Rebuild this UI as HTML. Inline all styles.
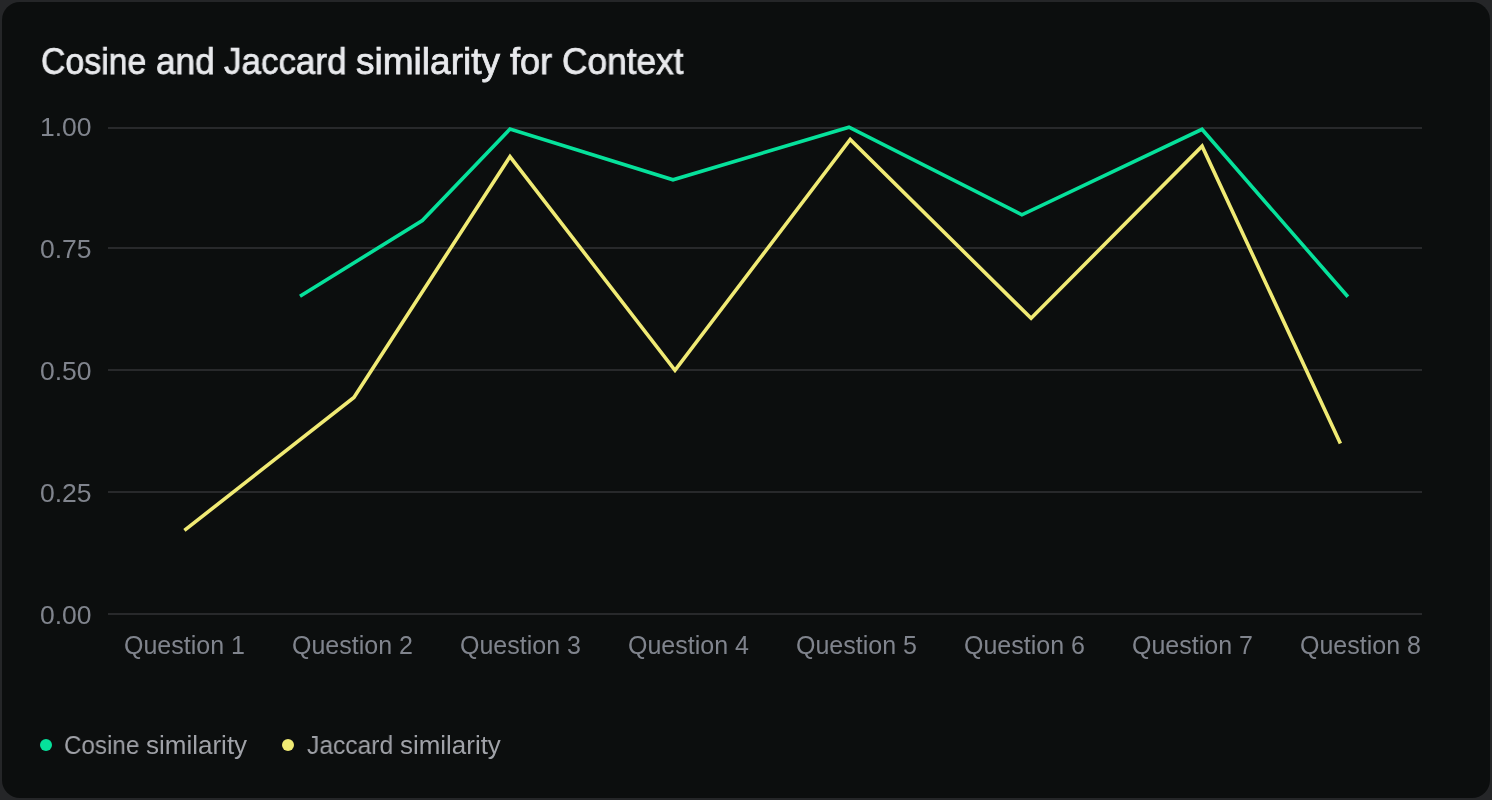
<!DOCTYPE html>
<html>
<head>
<meta charset="utf-8">
<style>
html, body { margin: 0; padding: 0; }
body { width: 1492px; height: 800px; background: #252628; overflow: hidden; position: relative; font-family: "Liberation Sans", sans-serif; }
.card { position: absolute; left: 2px; top: 2px; width: 1488px; height: 796px; background: #0c0e0e; border-radius: 18px; overflow: hidden; }
.t { position: absolute; white-space: nowrap; line-height: 1; will-change: transform; }
.title { top: 43.63px; font-size: 36.4px; color: #e8e9ec; transform-origin: 0 0; -webkit-text-stroke: 0.75px #e8e9ec; }
.yl { left: 39.5px; font-size: 26.5px; color: #80848d; }
.xl { font-size: 25px; color: #80848d; }
.lg { font-size: 25.3px; color: #a0a2a8; top: 733px; transform-origin: 0 0; }
.dot { position: absolute; width: 12px; height: 12px; border-radius: 50%; top: 739px; }
svg { position: absolute; left: 0; top: 0; }
</style>
</head>
<body>
<div class="card"></div>
<div class="t title" style="left:41.14px;transform:scaleX(0.9297)">Cosine</div>
<div class="t title" style="left:155.53px;transform:scaleX(0.9655)">and</div>
<div class="t title" style="left:223.9px;transform:scaleX(0.9614)">Jaccard</div>
<div class="t title" style="left:356.19px;transform:scaleX(1.018)">similarity</div>
<div class="t title" style="left:510.4px;transform:scaleX(0.9953)">for</div>
<div class="t title" style="left:561.89px;transform:scaleX(0.9695)">Context</div>

<div class="t yl" style="top:113.7px">1.00</div>
<div class="t yl" style="top:235.6px">0.75</div>
<div class="t yl" style="top:357.6px">0.50</div>
<div class="t yl" style="top:479.6px">0.25</div>
<div class="t yl" style="top:601.6px">0.00</div>

<svg width="1492" height="800" viewBox="0 0 1492 800">
  <g fill="#28292b">
    <rect x="108" y="127" width="1314" height="2"/>
    <rect x="108" y="247" width="1314" height="2"/>
    <rect x="108" y="369" width="1314" height="2"/>
    <rect x="108" y="491" width="1314" height="2"/>
    <rect x="108" y="613" width="1314" height="2"/>
  </g>
  <polyline fill="none" stroke="#f0ea74" stroke-width="3.6" stroke-linejoin="miter" stroke-linecap="butt"
    points="184.4,530.4 353.9,397.4 510,156.6 675,370.4 850.2,139.4 1031.1,318.3 1202.1,146.2 1340.4,443.4"/>
  <polyline fill="none" stroke="#06e19b" stroke-width="3.6" stroke-linejoin="miter" stroke-linecap="butt"
    points="300,296.2 422.3,220.6 510,129.1 673,179.8 849,127.2 1021.9,214.8 1202,129.3 1347.9,296.8"/>
</svg>

<div class="t xl" style="left:124px;top:633px">Question 1</div>
<div class="t xl" style="left:292px;top:633px">Question 2</div>
<div class="t xl" style="left:460px;top:633px">Question 3</div>
<div class="t xl" style="left:628px;top:633px">Question 4</div>
<div class="t xl" style="left:796px;top:633px">Question 5</div>
<div class="t xl" style="left:964px;top:633px">Question 6</div>
<div class="t xl" style="left:1132px;top:633px">Question 7</div>
<div class="t xl" style="left:1300px;top:633px">Question 8</div>

<div class="dot" style="left:40px;background:#06e19b"></div>
<div class="t lg" style="left:64.0px;transform:scaleX(0.956)">Cosine</div>
<div class="t lg" style="left:145.93px;transform:scaleX(1.028)">similarity</div>
<div class="dot" style="left:282px;background:#f0ea74"></div>
<div class="t lg" style="left:307.0px;transform:scaleX(0.973)">Jaccard</div>
<div class="t lg" style="left:400.33px;transform:scaleX(1.025)">similarity</div>
</body>
</html>
